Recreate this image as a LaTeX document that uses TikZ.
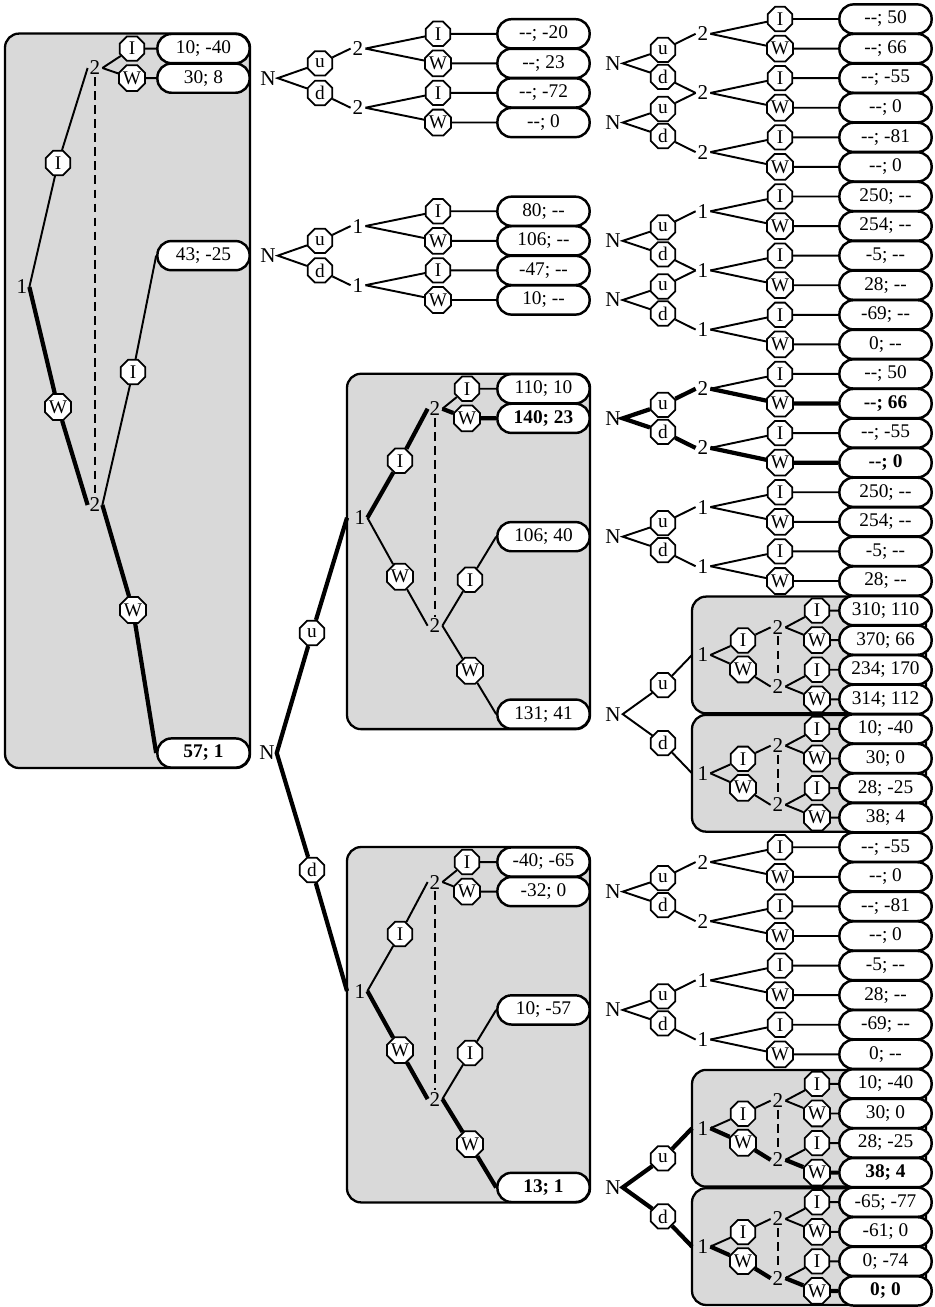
\documentclass[tikz,border=0pt]{standalone}
\usepackage{fontspec}
\setmainfont{Liberation Serif}
\usetikzlibrary{shapes.geometric}
\newcommand{\rowy}[1]{19+(#1-1)*29.58}
\newcommand{\nix}{-{}-}
\begin{document}
\begin{tikzpicture}[x=0.02cm, y=-0.02cm, font=\fontsize{11}{13}\selectfont,
  move/.style={regular polygon, regular polygon sides=8, draw, fill=white, inner sep=0pt, minimum size=15pt, line width=1pt},
  payoff/.style={draw, fill=white, rounded corners=8pt, minimum width=52.5pt, minimum height=16.6pt, inner sep=0pt, line width=1.4pt},
  subgame/.style={draw, fill=black!15, rounded corners=8pt, line width=1.3pt},
  player/.style={inner sep=1pt, font=\fontsize{12}{14}\selectfont},
  branch/.style={line width=1.1pt},
  eqpath/.style={line width=2.4pt},
  infoset/.style={line width=1.3pt, dash pattern=on 5pt off 3pt}]
  \useasboundingbox (0,0) rectangle (934,1307);
  % shaded subgames
  \draw[subgame] (5,{\rowy{2}-15}) rectangle (250,768);
  \foreach \bb in {13.5,29.5}
    \draw[subgame] (347,{\rowy{\bb}-15}) rectangle (590,{\rowy{\bb+11}+15});
  \foreach \r in {21,25,37,41}
    \draw[subgame] (692,{\rowy{\r}-14}) rectangle (926,{\rowy{\r+3}+14});

  % right column: last moves and payoffs
  \foreach \r/\t in {1/\nix; 50, 2/\nix; 66, 3/\nix; -55, 4/\nix; 0, 5/\nix; -81, 6/\nix; 0,
      7/250; \nix, 8/254; \nix, 9/-5; \nix, 10/28; \nix, 11/-69; \nix, 12/0; \nix,
      13/\nix; 50, 14/\textbf{\nix; 66}, 15/\nix; -55, 16/\textbf{\nix; 0},
      17/250; \nix, 18/254; \nix, 19/-5; \nix, 20/28; \nix,
      21/310; 110, 22/370; 66, 23/234; 170, 24/314; 112,
      25/10; -40, 26/30; 0, 27/28; -25, 28/38; 4,
      29/\nix; -55, 30/\nix; 0, 31/\nix; -81, 32/\nix; 0,
      33/-5; \nix, 34/28; \nix, 35/-69; \nix, 36/0; \nix,
      37/10; -40, 38/30; 0, 39/28; -25, 40/\textbf{38; 4},
      41/-65; -77, 42/-61; 0, 43/0; -74, 44/\textbf{0; 0}} {
    \pgfmathsetmacro\ox{((\r>20 && \r<29) || \r>36) ? 817 : 780}
    \node[payoff] (p\r) at (885.5,{\rowy{\r}}) {\t};
    \node[move] (o\r) at (\ox,{\rowy{\r}}) {\ifodd\r\relax I\else W\fi};
  }
  % right column: decision points
  \foreach \j/\l/\s in {1/2/branch, 2/2/branch, 3/2/branch, 4/1/branch, 5/1/branch, 6/1/branch,
      7/2/eqpath, 8/2/eqpath, 9/1/branch, 10/1/branch, 15/2/branch, 16/2/branch, 17/1/branch, 18/1/branch} {
    \pgfmathtruncatemacro\ja{2*\j-1}
    \pgfmathtruncatemacro\jb{2*\j}
    \node[player] (v\j) at (703,{\rowy{2*\j-0.5}}) {\l};
    \draw[branch] (v\j.east) -- (o\ja) -- (p\ja);
    \draw[\s] (v\j.east) -- (o\jb) -- (p\jb);
  }
  % right column: chance moves
  \foreach \k/\s in {2.5/branch, 4.5/branch, 8.5/branch, 10.5/branch, 14.5/eqpath, 18.5/branch, 30.5/branch, 34.5/branch} {
    \pgfmathtruncatemacro\ja{round((\k-0.5)/2)}
    \pgfmathtruncatemacro\jb{\ja+1}
    \node[player] (n\ja) at (613,{\rowy{\k}}) {N};
    \node[move] (u\ja) at (663,{\rowy{\k}-13.5}) {u};
    \node[move] (d\ja) at (663,{\rowy{\k}+13.5}) {d};
    \draw[\s] (u\ja) -- (n\ja.east) -- (d\ja);
    \draw[\s] (u\ja) -- (v\ja.west) (d\ja) -- (v\jb.west);
  }
  % small subgames
  \foreach \n/\r/\s in {A/21/branch, B/25/branch, C/37/eqpath, D/41/eqpath} {
    \pgfmathtruncatemacro\ra{\r+1}
    \pgfmathtruncatemacro\rb{\r+2}
    \pgfmathtruncatemacro\rc{\r+3}
    \coordinate (e\n) at (692,{\rowy{\r+1.5}});
    \node[player] (s\n) at (703,{\rowy{\r+1.5}}) {1};
    \node[move] (i\n) at (743,{\rowy{\r+1.5}-14.5}) {I};
    \node[move] (w\n) at (743,{\rowy{\r+1.5}+14.5}) {W};
    \node[player] (t\n) at (778,{\rowy{\r+0.5}+2}) {2};
    \node[player] (b\n) at (778,{\rowy{\r+2.5}+2}) {2};
    \draw[infoset] (t\n) -- (b\n);
    \draw[branch] (s\n.east) -- (i\n) -- (t\n.west);
    \draw[\s] (s\n.east) -- (w\n) -- (b\n.west);
    \draw[branch] (t\n.east) -- (o\r) -- (p\r) (t\n.east) -- (o\ra) -- (p\ra);
    \draw[branch] (b\n.east) -- (o\rb) -- (p\rb);
    \draw[\s] (b\n.east) -- (o\rc) -- (p\rc);
  }
  \foreach \k/\ga/\gb/\s in {24.5/A/B/branch, 40.5/C/D/eqpath} {
    \node[player] (n\ga) at (613,{\rowy{\k}}) {N};
    \node[move] (u\ga) at (663,{\rowy{\k}-29}) {u};
    \node[move] (d\ga) at (663,{\rowy{\k}+29}) {d};
    \draw[\s] (u\ga) -- (n\ga.east) -- (d\ga);
    \draw[\s] (u\ga) -- (e\ga) (d\ga) -- (e\gb);
  }

  % middle column
  \foreach \k/\t in {1.5/\nix; -20, 2.5/\nix; 23, 3.5/\nix; -72, 4.5/\nix; 0,
      7.5/80; \nix, 8.5/106; \nix, 9.5/-47; \nix, 10.5/10; \nix} {
    \pgfmathtruncatemacro\m{round(\k+0.5)}
    \node[payoff] (q\m) at (543.5,{\rowy{\k}}) {\t};
    \node[move] (m\m) at (438,{\rowy{\k}}) {\ifodd\m\relax W\else I\fi};
  }
  \foreach \k/\l in {2/2, 4/2, 8/1, 10/1} {
    \pgfmathtruncatemacro\ja{\k+1}
    \node[player] (c\k) at (358,{\rowy{\k}}) {\l};
    \draw[branch] (c\k.east) -- (m\k) -- (q\k) (c\k.east) -- (m\ja) -- (q\ja);
  }
  \foreach \k in {3,9} {
    \pgfmathtruncatemacro\ja{\k-1}
    \pgfmathtruncatemacro\jb{\k+1}
    \node[player] (h\k) at (268,{\rowy{\k}}) {N};
    \node[move] (hu\k) at (320,{\rowy{\k}-14.8}) {u};
    \node[move] (hd\k) at (320,{\rowy{\k}+14.8}) {d};
    \draw[branch] (hu\k) -- (h\k.east) -- (hd\k);
    \draw[branch] (hu\k) -- (c\ja.west) (hd\k) -- (c\jb.west);
  }
  % the two big subgames after the root
  \foreach \n/\bb/\ta/\tb/\tc/\td/\sa/\sb in {f/13.5/110; 10/\textbf{140; 23}/106; 40/131; 41/eqpath/branch,
      g/29.5/-40; -65/-32; 0/10; -57/\textbf{13; 1}/branch/eqpath} {
    \pgfmathsetmacro\cy{\rowy{\bb}+129}
    \coordinate (\n-e) at (347,\cy);
    \node[player] (\n-one) at (360,\cy) {1};
    \node[move] (\n-i) at (400,{\cy-57}) {I};
    \node[move] (\n-w) at (400,{\cy+59}) {W};
    \node[player] (\n-ta) at (435,{\cy-109}) {2};
    \node[player] (\n-tb) at (435,{\cy+108}) {2};
    \node[move] (\n-ai) at (467,{\rowy{\bb}}) {I};
    \node[move] (\n-aw) at (467,{\rowy{\bb+1}}) {W};
    \node[move] (\n-bi) at (470,{\cy+62}) {I};
    \node[move] (\n-bw) at (470,{\cy+153}) {W};
    \node[payoff] (\n-pa) at (543.5,{\rowy{\bb}}) {\ta};
    \node[payoff] (\n-pb) at (543.5,{\rowy{\bb+1}}) {\tb};
    \node[payoff] (\n-pc) at (543.5,{\rowy{\bb+5}}) {\tc};
    \node[payoff] (\n-pd) at (543.5,{\rowy{\bb+11}}) {\td};
    \draw[infoset] (\n-ta) -- (\n-tb);
    \draw[\sa] (\n-one.east) -- (\n-i) -- (\n-ta.west);
    \draw[\sb] (\n-one.east) -- (\n-w) -- (\n-tb.west);
    \draw[branch] (\n-ta.east) -- (\n-ai) -- (\n-pa);
    \draw[\sa] (\n-ta.east) -- (\n-aw) -- (\n-pb);
    \draw[branch] (\n-tb.east) -- (\n-bi) -- (\n-pc.west);
    \draw[\sb] (\n-tb.east) -- (\n-bw) -- (\n-pd.west);
  }

  % left subgame
  \node[player] (l1) at (22,287) {1};
  \node[move] (li) at (58,163) {I};
  \node[move] (lw) at (58,407) {W};
  \node[player] (l2a) at (95,68) {2};
  \node[player] (l2b) at (95,505) {2};
  \node[move] (lai) at (132,{\rowy{2}}) {I};
  \node[move] (law) at (132,{\rowy{3}}) {W};
  \node[move] (lbi) at (133,372) {I};
  \node[move] (lbw) at (133,610) {W};
  \node[payoff] (la1) at (203.5,{\rowy{2}}) {10; -40};
  \node[payoff] (la2) at (203.5,{\rowy{3}}) {30; 8};
  \node[payoff] (lb1) at (203.5,{\rowy{9}}) {43; -25};
  \node[payoff] (lb2) at (203.5,753) {\textbf{57; 1}};
  \draw[infoset] (l2a) -- (l2b);
  \draw[branch] (l1.east) -- (li) -- (l2a.west);
  \draw[eqpath] (l1.east) -- (lw) -- (l2b.west);
  \draw[branch] (l2a.east) -- (lai) -- (la1) (l2a.east) -- (law) -- (la2);
  \draw[branch] (l2b.east) -- (lbi) -- (lb1.west);
  \draw[eqpath] (l2b.east) -- (lbw) -- (lb2.west);

  % root
  \node[player] (root) at (267,753) {N};
  \node[move] (ru) at (312,633) {u};
  \node[move] (rd) at (312,870) {d};
  \draw[eqpath] (ru) -- (root.east) -- (rd);
  \draw[eqpath] (ru) -- (f-e) (rd) -- (g-e);
\end{tikzpicture}
\end{document}
